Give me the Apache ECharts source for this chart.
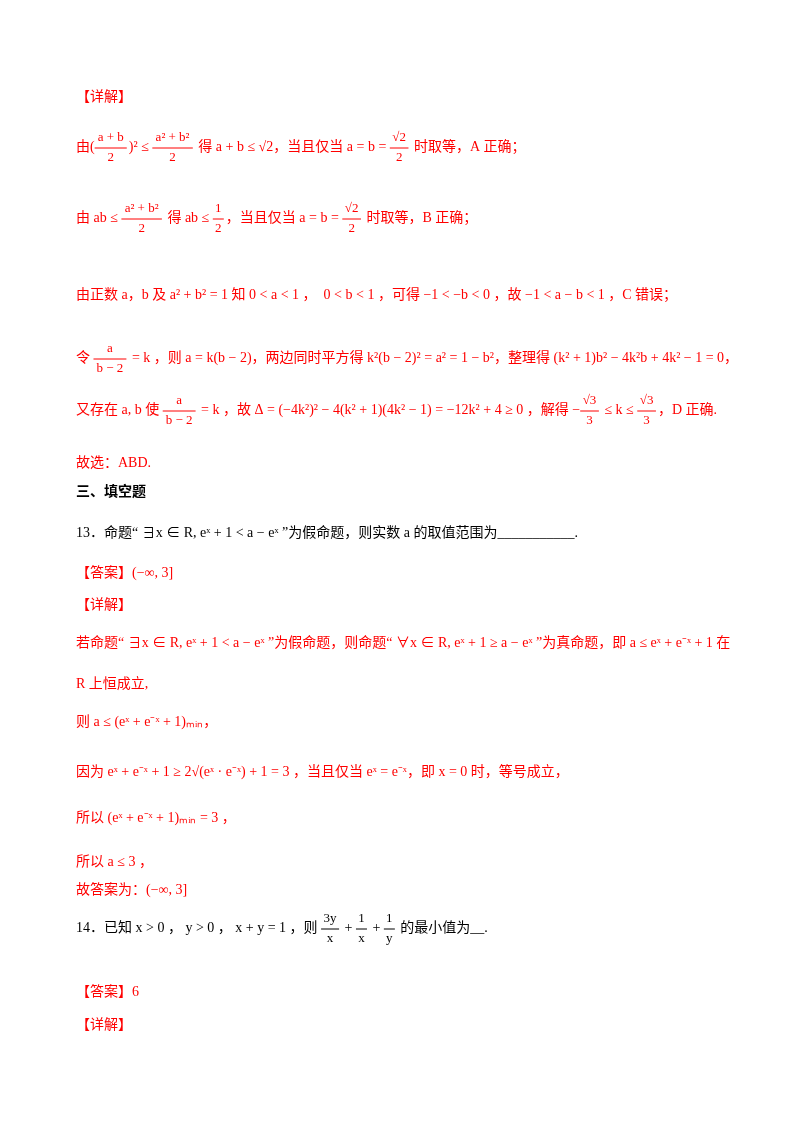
<!DOCTYPE html>
<html><head><meta charset="utf-8">
<script src="https://cdn.jsdelivr.net/npm/echarts@6/dist/echarts.min.js"></script>
<style>html,body{margin:0;background:#fff}#c{width:800px;height:1133px}</style>
</head><body><div id="c"></div>
<script>
// Text content of the page (parts: string, or fraction {n,d})
const RED = '#ff0000', BLACK = '#000000';
const lines = [
  {c:RED, t:['【详解】']},
  {c:RED, t:['由(', {n:'a + b', d:'2'}, ')² ≤ ', {n:'a² + b²', d:'2'}, ' 得 a + b ≤ √2，当且仅当 a = b = ', {n:'√2', d:'2'}, ' 时取等，A 正确；']},
  {c:RED, t:['由 ab ≤ ', {n:'a² + b²', d:'2'}, ' 得 ab ≤ ', {n:'1', d:'2'}, '，当且仅当 a = b = ', {n:'√2', d:'2'}, ' 时取等，B 正确；']},
  {c:RED, t:['由正数 a，b 及 a² + b² = 1 知 0 < a < 1 ，  0 < b < 1 ，可得 −1 < −b < 0 ，故 −1 < a − b < 1 ，C 错误；']},
  {c:RED, t:['令 ', {n:'a', d:'b − 2'}, ' = k ，则 a = k(b − 2)，两边同时平方得 k²(b − 2)² = a² = 1 − b²，整理得 (k² + 1)b² − 4k²b + 4k² − 1 = 0，']},
  {c:RED, t:['又存在 a, b 使 ', {n:'a', d:'b − 2'}, ' = k ，故 Δ = (−4k²)² − 4(k² + 1)(4k² − 1) = −12k² + 4 ≥ 0 ，解得 −', {n:'√3', d:'3'}, ' ≤ k ≤ ', {n:'√3', d:'3'}, '，D 正确.']},
  {c:RED, t:['故选：ABD.']},
  {c:BLACK, b:true, t:['三、填空题']},
  {c:BLACK, t:['13．命题“ ∃x ∈ R, eˣ + 1 < a − eˣ ”为假命题，则实数 a 的取值范围为___________.']},
  {c:RED, t:['【答案】(−∞, 3]']},
  {c:RED, t:['【详解】']},
  {c:RED, t:['若命题“ ∃x ∈ R, eˣ + 1 < a − eˣ ”为假命题，则命题“ ∀x ∈ R, eˣ + 1 ≥ a − eˣ ”为真命题，即 a ≤ eˣ + e⁻ˣ + 1 在']},
  {c:RED, t:['R 上恒成立,']},
  {c:RED, t:['则 a ≤ (eˣ + e⁻ˣ + 1)ₘᵢₙ，']},
  {c:RED, t:['因为 eˣ + e⁻ˣ + 1 ≥ 2√(eˣ · e⁻ˣ) + 1 = 3 ，当且仅当 eˣ = e⁻ˣ，即 x = 0 时，等号成立，']},
  {c:RED, t:['所以 (eˣ + e⁻ˣ + 1)ₘᵢₙ = 3 ，']},
  {c:RED, t:['所以 a ≤ 3 ，']},
  {c:RED, t:['故答案为：(−∞, 3]']},
  {c:BLACK, t:['14．已知 x > 0 ， y > 0 ， x + y = 1 ，则 ', {n:'3y', d:'x'}, ' + ', {n:'1', d:'x'}, ' + ', {n:'1', d:'y'}, ' 的最小值为__.']},
  {c:RED, t:['【答案】6']},
  {c:RED, t:['【详解】']}
];
const lineY = [97,147,218,295,358,410,463,492,533,573,605,643,684,722,772,818,862,890,928,992,1025];

const FONT = '"Liberation Serif","Noto Sans CJK SC",serif';
const FS = 14;
const cv = document.createElement('canvas').getContext('2d');
function w(s, b){ cv.font = (b?'bold ':'') + FS + 'px ' + FONT; return cv.measureText(s).width; }
const els = [];
lines.forEach((L, i) => {
  let x = 76; const y = lineY[i];
  L.t.forEach(p => {
    if (typeof p === 'string') {
      els.push({type:'text', x, y, style:{text:p, fill:L.c, font:(L.b?'bold ':'')+FS+'px '+FONT, verticalAlign:'middle'}});
      x += w(p, L.b);
    } else {
      const fw = Math.max(w(p.n), w(p.d)) + 4;
      els.push({type:'text', x:x+fw/2, y:y-9, style:{text:p.n, fill:L.c, font:'13px '+FONT, align:'center', verticalAlign:'middle'}});
      els.push({type:'text', x:x+fw/2, y:y+11, style:{text:p.d, fill:L.c, font:'13px '+FONT, align:'center', verticalAlign:'middle'}});
      els.push({type:'line', shape:{x1:x, y1:y+1, x2:x+fw, y2:y+1}, style:{stroke:L.c, lineWidth:1}});
      x += fw + 2;
    }
  });
});
const chart = echarts.init(document.getElementById('c'));
chart.setOption({backgroundColor:'#fff', graphic:{elements:els}});
</script></body></html>
